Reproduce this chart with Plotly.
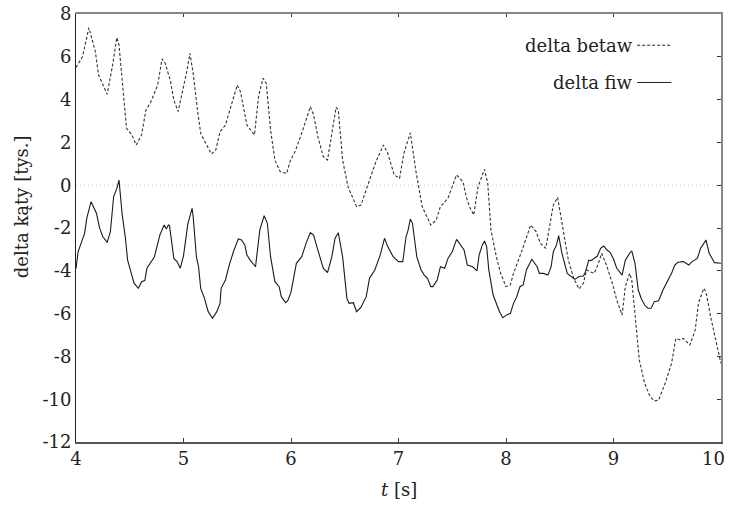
import plotly.graph_objects as go

# ---- data ----
betaw_t = [4.00, 4.06, 4.12, 4.18, 4.21, 4.29, 4.34, 4.38, 4.40, 4.43, 4.47, 4.52, 4.56, 4.61, 4.65,
           4.69, 4.76, 4.80, 4.83, 4.88, 4.91, 4.95, 4.99, 5.03, 5.06, 5.09, 5.13, 5.16, 5.20, 5.26,
           5.30, 5.34, 5.39, 5.43, 5.50, 5.53, 5.59, 5.66, 5.70, 5.74, 5.77, 5.81, 5.85, 5.90, 5.96,
           5.99, 6.04, 6.11, 6.18, 6.21, 6.25, 6.30, 6.34, 6.38, 6.42, 6.44, 6.48, 6.53, 6.58, 6.61,
           6.65, 6.72, 6.79, 6.86, 6.90, 6.96, 7.01, 7.05, 7.11, 7.16, 7.22, 7.30, 7.35, 7.39, 7.46,
           7.54, 7.60, 7.63, 7.66, 7.70, 7.74, 7.80, 7.83, 7.86, 7.91, 7.95, 8.00, 8.04, 8.07, 8.15,
           8.23, 8.28, 8.32, 8.37, 8.41, 8.44, 8.48, 8.52, 8.58, 8.63, 8.68, 8.72, 8.75, 8.78, 8.82,
           8.86, 8.89, 8.94, 8.99, 9.03, 9.08, 9.11, 9.15, 9.17, 9.21, 9.24, 9.29, 9.34, 9.38, 9.42,
           9.48, 9.54, 9.58, 9.62, 9.65, 9.71, 9.76, 9.79, 9.84, 9.86, 9.91, 9.96, 10.00]
betaw_v = [5.50, 6.00, 7.36, 6.24, 5.15, 4.25, 5.60, 6.90, 6.55, 4.84, 2.66, 2.35, 1.88, 2.35, 3.51,
           3.83, 4.68, 5.90, 5.70, 4.84, 3.98, 3.44, 4.30, 5.30, 6.16, 5.23, 3.51, 2.42, 2.03, 1.46,
           1.64, 2.50, 2.81, 3.51, 4.68, 4.37, 2.81, 2.35, 4.21, 5.00, 4.76, 2.58, 1.18, 0.63, 0.55,
           1.10, 1.60, 2.58, 3.67, 3.28, 2.27, 1.33, 1.18, 2.42, 3.64, 3.51, 1.18, -0.07, -0.69, -1.00,
           -0.93, 0.09, 1.10, 1.88, 1.49, 0.48, 0.32, 1.49, 2.45, 0.71, -1.00, -1.86, -1.63, -1.00, -0.61,
           0.48, 0.16, -0.54, -1.00, -1.39, -0.07, 0.74, 0.09, -2.09, -3.34, -4.12, -4.74, -4.66, -4.12, -3.03,
           -1.86, -2.17, -2.72, -2.95, -1.78, -0.93, -0.57, -1.78, -3.50, -4.35, -4.85, -4.58, -3.96, -4.04, -4.12,
           -3.65, -3.18, -3.81, -4.60, -5.36, -6.07, -4.74, -4.12, -4.43, -6.77, -8.17, -9.26, -9.88, -10.08, -10.04,
           -9.26, -8.33, -7.16, -7.23, -7.16, -7.47, -6.77, -5.52, -4.82, -4.98, -6.30, -7.39, -8.33]

fiw_t = [4.00, 4.02, 4.08, 4.10, 4.14, 4.17, 4.19, 4.22, 4.25, 4.29, 4.32, 4.35, 4.38, 4.40, 4.43,
         4.46, 4.48, 4.51, 4.54, 4.58, 4.61, 4.64, 4.66, 4.73, 4.78, 4.82, 4.84, 4.86, 4.87, 4.91,
         4.94, 4.97, 5.00, 5.04, 5.08, 5.09, 5.12, 5.14, 5.16, 5.19, 5.23, 5.27, 5.31, 5.34, 5.35,
         5.39, 5.43, 5.47, 5.51, 5.54, 5.57, 5.59, 5.62, 5.67, 5.71, 5.75, 5.78, 5.81, 5.85, 5.89,
         5.91, 5.95, 5.97, 6.00, 6.05, 6.10, 6.14, 6.18, 6.21, 6.25, 6.30, 6.34, 6.38, 6.41, 6.44,
         6.48, 6.52, 6.54, 6.58, 6.61, 6.65, 6.70, 6.73, 6.78, 6.83, 6.87, 6.90, 6.95, 7.00, 7.04,
         7.07, 7.09, 7.11, 7.13, 7.17, 7.21, 7.24, 7.27, 7.30, 7.32, 7.36, 7.39, 7.43, 7.46, 7.50,
         7.54, 7.58, 7.61, 7.64, 7.69, 7.73, 7.75, 7.78, 7.80, 7.82, 7.84, 7.88, 7.91, 7.94, 7.97,
         8.01, 8.04, 8.07, 8.10, 8.13, 8.16, 8.19, 8.24, 8.29, 8.31, 8.35, 8.39, 8.42, 8.44, 8.47,
         8.49, 8.52, 8.57, 8.60, 8.64, 8.68, 8.72, 8.74, 8.77, 8.79, 8.82, 8.85, 8.88, 8.91, 8.94,
         8.97, 9.00, 9.03, 9.08, 9.11, 9.15, 9.17, 9.20, 9.23, 9.26, 9.29, 9.32, 9.35, 9.38, 9.42,
         9.46, 9.51, 9.54, 9.57, 9.60, 9.65, 9.70, 9.73, 9.78, 9.81, 9.86, 9.89, 9.94, 10.00]
fiw_v = [-3.90, -3.10, -2.25, -1.55, -0.77, -1.08, -1.31, -2.01, -2.41, -2.67, -2.17, -0.54, -0.15, 0.24, -1.39,
         -2.48, -3.50, -4.04, -4.58, -4.82, -4.51, -4.46, -3.88, -3.34, -2.33, -1.86, -2.05, -1.86, -1.89, -3.42,
         -3.57, -3.88, -3.30, -1.82, -1.08, -1.47, -3.34, -3.81, -4.82, -5.21, -5.91, -6.22, -5.91, -5.52, -4.82,
         -4.43, -3.65, -3.03, -2.51, -2.56, -2.79, -3.26, -3.50, -3.81, -2.09, -1.42, -1.78, -3.34, -4.51, -4.74,
         -5.21, -5.49, -5.40, -5.00, -3.65, -3.34, -2.72, -2.22, -2.33, -3.03, -3.88, -4.09, -3.34, -2.48, -2.22,
         -3.34, -5.29, -5.52, -5.49, -5.91, -5.71, -5.21, -4.35, -3.96, -3.26, -2.48, -2.87, -3.34, -3.57, -3.57,
         -2.41, -2.09, -1.58, -1.78, -3.34, -3.96, -4.20, -4.35, -4.74, -4.74, -4.43, -3.81, -3.88, -3.42, -3.11,
         -2.53, -2.79, -3.03, -3.73, -3.81, -4.00, -3.26, -2.79, -2.61, -2.87, -3.96, -5.13, -5.52, -5.91, -6.19,
         -6.05, -6.00, -5.52, -5.21, -4.74, -4.66, -3.96, -3.46, -3.81, -4.12, -4.12, -4.20, -3.81, -3.11, -2.79,
         -2.36, -3.18, -4.12, -4.24, -4.40, -4.27, -4.24, -4.04, -3.50, -3.53, -3.42, -3.31, -2.95, -2.84, -3.03,
         -3.15, -3.45, -3.88, -4.20, -3.50, -3.18, -3.07, -3.65, -4.90, -5.32, -5.60, -5.75, -5.75, -5.44, -5.40,
         -4.90, -4.40, -4.12, -3.73, -3.60, -3.57, -3.73, -3.57, -3.42, -2.95, -2.56, -3.18, -3.62, -3.65]

x_ticks = [4, 5, 6, 7, 8, 9, 10]
x_ticktext = ["4", "5", "6", "7", "8", "9", ""]   # last label drawn separately so it stays inside the page
x_last_label = "10"
y_ticks = [-12, -10, -8, -6, -4, -2, 0, 2, 4, 6, 8]
y_ticktext = ["-12", "-10", "-8", "-6", "-4", "-2", "0", "2", "4", "6", "8"]
x_range = [4, 10]
y_range = [-12, 8]
legend_labels = ["delta betaw", "delta fiw"]
y_title = "delta kąty [tys.]"
x_title = "<i>t</i> [s]"

FONT = "DejaVu Serif"
TXT = "#222222"

fig = go.Figure()
fig.add_trace(go.Scatter(x=betaw_t, y=betaw_v, mode="lines", name=legend_labels[0],
                         line=dict(color="#333333", width=1.1, dash="3px,2px")))
fig.add_trace(go.Scatter(x=fiw_t, y=fiw_v, mode="lines", name=legend_labels[1],
                         line=dict(color="#1a1a1a", width=1.1)))
# invisible trace to carry the mirrored (top / right) axes
fig.add_trace(go.Scatter(x=fiw_t, y=fiw_v, mode="lines", xaxis="x2", yaxis="y2",
                         line=dict(width=0), hoverinfo="skip", showlegend=False, opacity=0))

fig.update_layout(
    width=730, height=506,
    margin=dict(l=76, r=9, t=14, b=64, autoexpand=False),
    paper_bgcolor="white", plot_bgcolor="white",
    showlegend=False,
    font=dict(family=FONT, size=18, color=TXT),
    xaxis=dict(range=x_range, tickvals=x_ticks, ticktext=x_ticktext, ticks="inside", ticklen=4,
               tickcolor="#333", automargin=False,
               showline=True, linecolor="#555", linewidth=1.5, showgrid=False, zeroline=False,
               tickfont=dict(family=FONT, size=18, color=TXT)),
    yaxis=dict(range=y_range, tickvals=y_ticks, ticktext=y_ticktext, ticks="", showline=True,
               linecolor="#222", linewidth=1, showgrid=False, zeroline=False,
               ticklabeloverflow="allow", automargin=False,
               tickfont=dict(family=FONT, size=18, color=TXT)),
    xaxis2=dict(range=x_range, tickvals=x_ticks, overlaying="x", side="top", ticks="inside",
                ticklen=3, tickcolor="#333", showticklabels=False, showline=True, automargin=False,
                linecolor="#888", linewidth=2, showgrid=False, zeroline=False),
    yaxis2=dict(range=y_range, tickvals=y_ticks, overlaying="y", side="right", ticks="inside",
                ticklen=4, tickcolor="#333", showticklabels=False, showline=True, automargin=False,
                linecolor="#888", linewidth=2, showgrid=False, zeroline=False),
)

# last x tick label, kept inside the page like in the reference
fig.add_annotation(text=x_last_label, xref="x", yref="paper", x=x_ticks[-1], y=-0.0397,
                   xanchor="right", yanchor="middle", xshift=6, showarrow=False,
                   font=dict(family=FONT, size=18, color=TXT))

# dotted zero line
fig.add_shape(type="line", xref="paper", yref="y", x0=0, x1=1, y0=0, y1=0,
              line=dict(color="#c8c8c8", width=1, dash="1px,3px"), layer="below")

# axis titles
fig.add_annotation(text=y_title, xref="paper", yref="paper", x=-0.085, y=0.549,
                   textangle=-90, showarrow=False, xanchor="center", yanchor="middle",
                   font=dict(family=FONT, size=18, color=TXT))
fig.add_annotation(text=x_title, xref="paper", yref="paper", x=0.5, y=-0.112,
                   showarrow=False, xanchor="center", yanchor="middle",
                   font=dict(family=FONT, size=18, color=TXT))

# legend (text on the left, line sample on the right)
leg_y = [0.927, 0.840]
leg_dash = ["3px,2px", "solid"]
for lab, yy, dsh in zip(legend_labels, leg_y, leg_dash):
    fig.add_annotation(text=lab, xref="paper", yref="paper", x=0.866, y=yy,
                       showarrow=False, xanchor="right", yanchor="middle",
                       font=dict(family=FONT, size=18, color=TXT))
    fig.add_shape(type="line", xref="paper", yref="paper", x0=0.870, x1=0.923, y0=yy, y1=yy,
                  line=dict(color="#222", width=1, dash=dsh))

fig.write_html("out.html")
